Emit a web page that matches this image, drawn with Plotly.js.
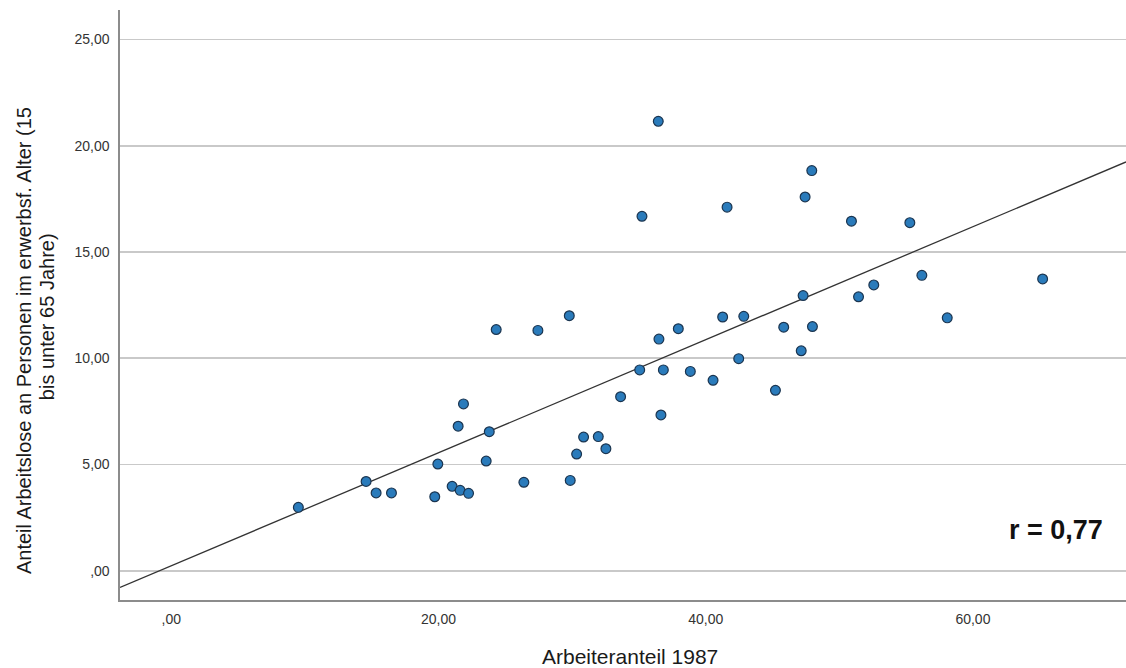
<!DOCTYPE html>
<html>
<head>
<meta charset="utf-8">
<script src="https://cdn.plot.ly/plotly-3.0.1.min.js"></script>
<style>
html,body{margin:0;padding:0;background:#fff;}
#chart{width:1126px;height:668px;}
</style>
</head>
<body>
<div id="chart"></div>
<script>
// Arbeiteranteil 1987 (x) vs. Anteil Arbeitslose (y)
const arbeiteranteil = [
  9.51, 14.58, 15.33, 16.48, 19.72, 19.95, 21.02, 21.47, 21.62, 21.87,
  22.25, 23.57, 23.80, 24.32, 26.39, 27.44, 29.79, 29.86, 30.34, 30.86,
  31.96, 32.53, 33.63, 35.06, 35.23, 36.45, 36.50, 36.65, 36.83, 37.95,
  38.85, 40.55, 41.27, 41.60, 42.47, 42.85, 45.22, 45.84, 47.15, 47.29,
  47.44, 47.94, 47.99, 50.91, 51.44, 52.58, 55.28, 56.18, 58.08, 65.22
];
const arbeitslose = [
  2.98, 4.20, 3.66, 3.66, 3.48, 5.02, 3.97, 6.80, 3.78, 7.85,
  3.64, 5.16, 6.54, 11.35, 4.16, 11.31, 12.00, 4.25, 5.49, 6.29,
  6.31, 5.74, 8.19, 9.45, 16.68, 21.15, 10.90, 7.33, 9.45, 11.39,
  9.38, 8.96, 11.94, 17.11, 9.98, 11.97, 8.49, 11.46, 10.35, 12.95,
  17.59, 18.83, 11.49, 16.45, 12.89, 13.45, 16.38, 13.90, 11.90, 13.73
];
// fit line (as drawn in the reference)
const fitIntercept = 0.23;
const fitSlope = 0.266;
const xRange = [-3.84, 71.46];
const yRange = [-1.38, 26.39];

const xTickVals = [0, 20, 40, 60];
const xTickLabels = [",00", "20,00", "40,00", "60,00"];
const yTickVals = [0, 5, 10, 15, 20, 25];
const yTickLabels = [",00", "5,00", "10,00", "15,00", "20,00", "25,00"];

const xTitle = "Arbeiteranteil 1987";
const yTitleLine1 = "Anteil Arbeitslose an Personen im erwerbsf. Alter (15";
const yTitleLine2 = "bis unter 65 Jahre)";
const rLabel = "r = 0,77";

const fitX = xRange.slice();
const fitY = fitX.map(v => fitIntercept + fitSlope * v);

const FONT = "Liberation Sans, Arial, sans-serif";

const traces = [
  {
    x: fitX, y: fitY, mode: "lines", type: "scatter",
    line: {color: "#333333", width: 1.3},
    hoverinfo: "skip", showlegend: false
  },
  {
    x: arbeiteranteil, y: arbeitslose, mode: "markers", type: "scatter",
    marker: {size: 9.8, color: "#2a7bbb", line: {color: "#1b3550", width: 1.2}},
    showlegend: false
  }
];

const layout = {
  width: 1126, height: 668,
  margin: {l: 120, r: 0, t: 10, b: 68},
  paper_bgcolor: "#ffffff", plot_bgcolor: "#ffffff",
  font: {family: FONT, color: "#333333"},
  showlegend: false,
  xaxis: {
    range: xRange, tickvals: xTickVals, ticktext: xTickLabels,
    showgrid: false, zeroline: false,
    showline: true, linecolor: "#8c8c8c", linewidth: 1.6,
    ticks: "", ticklabelstandoff: 6,
    tickfont: {family: FONT, size: 14, color: "#333333"}
  },
  yaxis: {
    range: yRange, tickvals: yTickVals, ticktext: yTickLabels,
    showgrid: true, gridcolor: "#c9c9c9", gridwidth: 1.8, zeroline: false,
    showline: true, linecolor: "#8c8c8c", linewidth: 1.6,
    ticks: "", ticklabelstandoff: 6,
    tickfont: {family: FONT, size: 14, color: "#333333"}
  },
  annotations: [
    {
      text: xTitle, xref: "paper", yref: "paper", x: 0.507, y: -0.0966,
      xanchor: "center", yanchor: "middle", showarrow: false,
      font: {family: FONT, size: 21, color: "#1a1a1a"}
    },
    {
      text: yTitleLine1, xref: "paper", yref: "paper", x: -0.0954, y: 0.439,
      xanchor: "center", yanchor: "middle", showarrow: false, textangle: -90,
      font: {family: FONT, size: 20, color: "#1a1a1a"}
    },
    {
      text: yTitleLine2, xref: "paper", yref: "paper", x: -0.0726, y: 0.481,
      xanchor: "center", yanchor: "middle", showarrow: false, textangle: -90,
      font: {family: FONT, size: 20, color: "#1a1a1a"}
    },
    {
      text: "<b>" + rLabel + "</b>", xref: "paper", yref: "paper", x: 0.979, y: 0.1186,
      xanchor: "right", yanchor: "middle", showarrow: false,
      font: {family: FONT, size: 27, color: "#111111"}
    }
  ]
};

Plotly.newPlot("chart", traces, layout, {displayModeBar: false, staticPlot: true});
</script>
</body>
</html>
